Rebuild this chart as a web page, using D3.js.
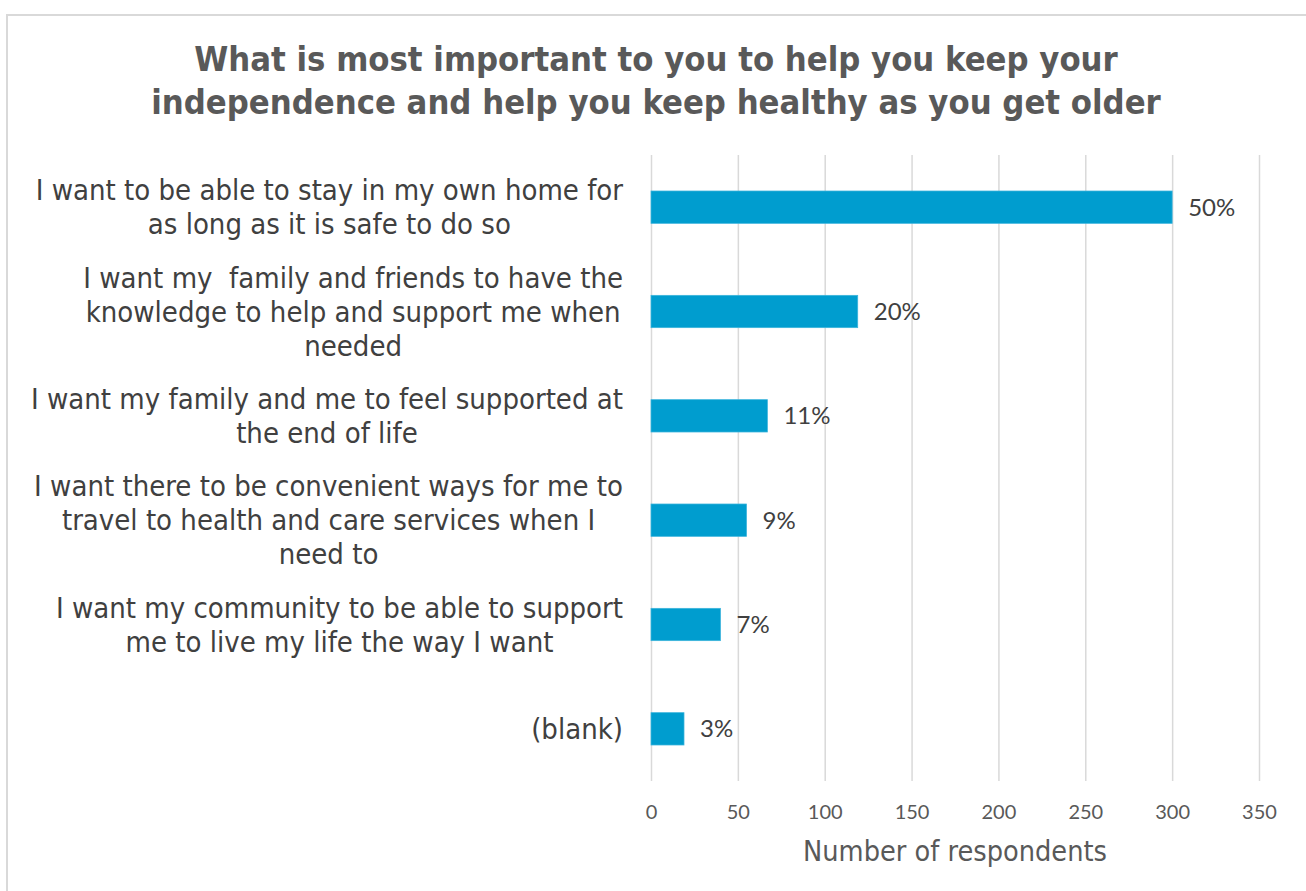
<!DOCTYPE html>
<html>
<head>
<meta charset="utf-8">
<script src="https://cdn.jsdelivr.net/npm/d3@7/dist/d3.min.js"></script>
<style>
  html, body { margin: 0; padding: 0; background: #ffffff; }
  svg { display: block; font-family: "DejaVu Sans Condensed", "DejaVu Sans", sans-serif; }
</style>
</head>
<body>
<svg id="chart" width="1306" height="891"></svg>
<script>
// Survey answers, top to bottom, with respondent counts
const categories = [
  ["I want to be able to stay in my own home for", "as long as it is safe to do so"],
  ["I want my  family and friends to have the", "knowledge to help and support me when", "needed"],
  ["I want my family and me to feel supported at", "the end of life"],
  ["I want there to be convenient ways for me to", "travel to health and care services when I", "need to"],
  ["I want my community to be able to support", "me to live my life the way I want"],
  ["(blank)"]
];
const respondents = [300, 119, 67, 55, 40, 19];
const percentLabels = ["50%", "20%", "11%", "9%", "7%", "3%"];
const xTicks = [0, 50, 100, 150, 200, 250, 300, 350];
const titleLines = [
  "What is most important to you to help you keep your",
  "independence and help you keep healthy as you get older"
];
const xAxisTitle = "Number of respondents";

const svg = d3.select("#chart");
const W = 1306, H = 891;
const plot = { left: 651, right: 1259, top: 155, bottom: 781 };
const numFont = "Lato, sans-serif";

// Pick a font size so that a text element spans the given width
function fitSize(sel, targetWidth, maxSize) {
  const base = 20;
  sel.attr("font-size", base);
  const w = sel.node().getComputedTextLength();
  return Math.min(maxSize, base * targetWidth / w);
}

// Chart frame
svg.append("rect")
  .attr("x", 7).attr("y", 15)
  .attr("width", W).attr("height", H)
  .attr("fill", "#ffffff")
  .attr("stroke", "#d9d9d9").attr("stroke-width", 2);

// Title
const titleG = svg.append("g")
  .attr("font-weight", "bold")
  .attr("fill", "#595959");
const titleText = titleG.selectAll("text")
  .data(titleLines)
  .join("text")
  .attr("x", 656)
  .attr("y", (d, i) => 71 + i * 43)
  .attr("text-anchor", "middle")
  .text(d => d);
const titleSize = fitSize(titleText.filter((d, i) => i === 1), 1010, 36);
titleText.attr("font-size", titleSize);

const keys = categories.map((c, i) => i);
const x = d3.scaleLinear().domain([0, 350]).range([plot.left, plot.right]);
const y = d3.scaleBand().domain(keys).range([plot.top, plot.bottom])
  .paddingInner(0.69).paddingOuter(0.345);

// Vertical gridlines and tick labels
const xAxis = d3.axisBottom(x).tickValues(xTicks).tickSize(-(plot.bottom - plot.top)).tickPadding(24);
const gx = svg.append("g")
  .attr("transform", `translate(0,${plot.bottom})`)
  .call(xAxis);
gx.select(".domain").remove();
gx.selectAll(".tick line").attr("stroke", "#d9d9d9").attr("stroke-width", 1.5);
gx.selectAll(".tick text")
  .attr("font-size", 20)
  .attr("fill", "#595959")
  .attr("font-family", numFont);

// Bars
svg.append("g").selectAll("rect")
  .data(respondents)
  .join("rect")
  .attr("x", x(0))
  .attr("y", (d, i) => y(i))
  .attr("width", d => x(d) - x(0))
  .attr("height", y.bandwidth())
  .attr("fill", "#009dcf")
  .attr("stroke", "#3cb4dc")
  .attr("stroke-width", 0.75);

// Value labels
svg.append("g").selectAll("text")
  .data(respondents)
  .join("text")
  .attr("x", d => x(d) + 16)
  .attr("y", (d, i) => y(i) + y.bandwidth() / 2)
  .attr("dy", "0.35em")
  .attr("font-size", 24)
  .attr("font-family", numFont)
  .attr("fill", "#404040")
  .text((d, i) => percentLabels[i]);

// Category labels: block right-aligned to the axis, lines centred within the block
const labelRight = 623;
const lineH = 34;
const probe = svg.append("text").text(categories[0][0]);
const labelSize = fitSize(probe, 592, 29);
probe.remove();
const catG = svg.append("g");
categories.forEach((lines, i) => {
  const cy = y(i) + y.bandwidth() / 2;
  const t = catG.append("text")
    .attr("font-size", labelSize)
    .attr("fill", "#404040")
    .attr("text-anchor", "middle");
  lines.forEach((ln, j) => {
    t.append("tspan")
      .attr("y", cy + (j - (lines.length - 1) / 2) * lineH)
      .attr("dy", "0.35em")
      .attr("xml:space", "preserve")
      .text(ln);
  });
  let maxW = 0;
  t.selectAll("tspan").each(function () { maxW = Math.max(maxW, this.getComputedTextLength()); });
  t.selectAll("tspan").attr("x", labelRight - maxW / 2);
});

// Axis title
const axisTitle = svg.append("text")
  .attr("x", (plot.left + plot.right) / 2)
  .attr("y", 851)
  .attr("dy", "0.35em")
  .attr("text-anchor", "middle")
  .attr("fill", "#595959")
  .text(xAxisTitle);
axisTitle.attr("font-size", fitSize(axisTitle, 304, 29));
</script>
</body>
</html>
